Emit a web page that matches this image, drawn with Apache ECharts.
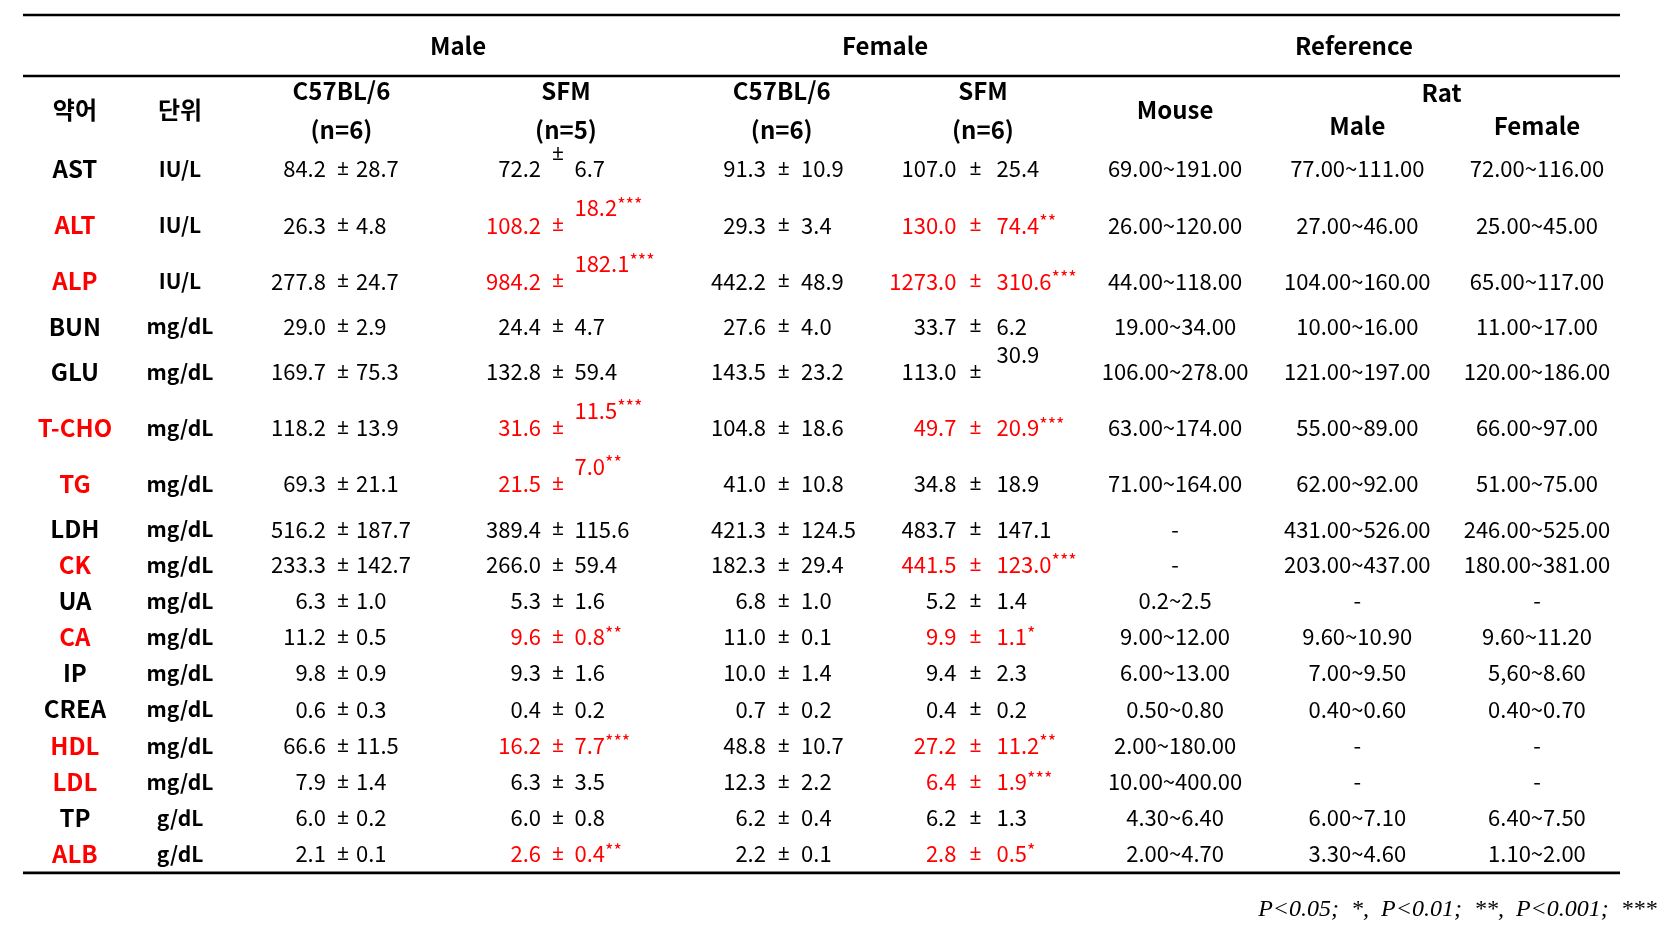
<!DOCTYPE html>
<html><head><meta charset="utf-8">
<script src="https://cdn.jsdelivr.net/npm/echarts@6/dist/echarts.min.js"></script>
<style>html,body{margin:0;padding:0;background:#fff}#c{width:1677px;height:940px}</style>
</head><body><div id="c"></div>
<script>
// ---------------- DATA ----------------
const groupHeaders = ['Male', 'Female', 'Reference'];
const subHeaders = ['C57BL/6', 'SFM', 'C57BL/6', 'SFM'];
const subHeaderN = ['(n=6)', '(n=5)', '(n=6)', '(n=6)'];
const refHeaders = ['Mouse', 'Rat', 'Male', 'Female'];
const colHeadAbbr = '약어';
const colHeadUnit = '단위';

const analytes = ['AST','ALT','ALP','BUN','GLU','T-CHO','TG','LDH','CK','UA','CA','IP','CREA','HDL','LDL','TP','ALB'];
const units = ['IU/L','IU/L','IU/L','mg/dL','mg/dL','mg/dL','mg/dL','mg/dL','mg/dL','mg/dL','mg/dL','mg/dL','mg/dL','mg/dL','mg/dL','g/dL','g/dL'];

const maleC57Mean = [84.2,26.3,277.8,29.0,169.7,118.2,69.3,516.2,233.3,6.3,11.2,9.8,0.6,66.6,7.9,6.0,2.1];
const maleC57Sd   = [28.7,4.8,24.7,2.9,75.3,13.9,21.1,187.7,142.7,1.0,0.5,0.9,0.3,11.5,1.4,0.2,0.1];
const maleSfmMean = [72.2,108.2,984.2,24.4,132.8,31.6,21.5,389.4,266.0,5.3,9.6,9.3,0.4,16.2,6.3,6.0,2.6];
const maleSfmSd   = [6.7,18.2,182.1,4.7,59.4,11.5,7.0,115.6,59.4,1.6,0.8,1.6,0.2,7.7,3.5,0.8,0.4];
const maleSfmSig  = ['','***','***','','','***','**','','','','**','','','***','','','**'];

const femaleC57Mean = [91.3,29.3,442.2,27.6,143.5,104.8,41.0,421.3,182.3,6.8,11.0,10.0,0.7,48.8,12.3,6.2,2.2];
const femaleC57Sd   = [10.9,3.4,48.9,4.0,23.2,18.6,10.8,124.5,29.4,1.0,0.1,1.4,0.2,10.7,2.2,0.4,0.1];
const femaleSfmMean = [107.0,130.0,1273.0,33.7,113.0,49.7,34.8,483.7,441.5,5.2,9.9,9.4,0.4,27.2,6.4,6.2,2.8];
const femaleSfmSd   = [25.4,74.4,310.6,6.2,30.9,20.9,18.9,147.1,123.0,1.4,1.1,2.3,0.2,11.2,1.9,1.3,0.5];
const femaleSfmSig  = ['','**','***','','','***','','','***','','*','','','**','***','','*'];

const refMouse = ['69.00~191.00','26.00~120.00','44.00~118.00','19.00~34.00','106.00~278.00','63.00~174.00','71.00~164.00','-','-','0.2~2.5','9.00~12.00','6.00~13.00','0.50~0.80','2.00~180.00','10.00~400.00','4.30~6.40','2.00~4.70'];
const refRatMale = ['77.00~111.00','27.00~46.00','104.00~160.00','10.00~16.00','121.00~197.00','55.00~89.00','62.00~92.00','431.00~526.00','203.00~437.00','-','9.60~10.90','7.00~9.50','0.40~0.60','-','-','6.00~7.10','3.30~4.60'];
const refRatFemale = ['72.00~116.00','25.00~45.00','65.00~117.00','11.00~17.00','120.00~186.00','66.00~97.00','51.00~75.00','246.00~525.00','180.00~381.00','-','9.60~11.20','5,60~8.60','0.40~0.70','-','-','6.40~7.50','1.10~2.00'];

const footnote = 'P<0.05;  *,  P<0.01;  **,  P<0.001;  ***';

// --------------- LAYOUT (units: x = % of table width, y = row units) ---------------
const rowSpan = [1.55,1.55,1.55,0.95,1.55,1.55,1.55,0.95,1,1,1,1,1,1,1,1,1];
const headerDepth = 3.5;
const raisedSd = { maleSfm: ['ALT','ALP','T-CHO','TG'], femaleSfm: ['GLU'] };
const raisedPm = { maleSfm: ['AST'] };
const sdRaise = 0.48, pmRaise = 0.42;

const X = {
  abbr: 3.25, unit: 9.83,
  groups: [27.24, 53.98, 83.34],
  sub: [19.94, 34.0, 47.51, 60.11],
  mean: [18.97, 32.44, 46.52, 58.45],
  pm: [20.04, 33.5, 47.63, 59.65],
  sd: [20.85, 34.53, 48.72, 60.96],
  mouse: 72.14, ratHead: 88.83, ratM: 83.55, ratF: 94.8,
  footRight: 102.3
};
const Y = { group: 0.84, rule2: 1.685, sub1: 2.09, sub2: 3.17, mid: 2.63, rat: 2.15, ratSub: 3.06, foot: 24.72 };

const FONT = '"Noto Sans CJK KR", "Noto Sans", sans-serif';
const PM_FONT = '"Noto Sans", "DejaVu Sans", sans-serif';
const RED = '#ff0000', BLACK = '#000000';

// --------------- build cells ---------------
const rowCenter = [];
let acc = headerDepth;
rowSpan.forEach(s => { rowCenter.push(acc + s / 2); acc += s; });
const tableBottom = acc;

const cells = [];
function add(x, y, text, opt) { cells.push(Object.assign({ x, y, text }, opt || {})); }
const bold = { weight: 'bold', size: 24 };

groupHeaders.forEach((t, i) => add(X.groups[i], Y.group, t, bold));
subHeaders.forEach((t, i) => add(X.sub[i], Y.sub1, t, bold));
subHeaderN.forEach((t, i) => add(X.sub[i], Y.sub2, t, bold));
add(X.abbr, Y.mid, colHeadAbbr, bold);
add(X.unit, Y.mid, colHeadUnit, bold);
add(X.mouse, Y.mid, refHeaders[0], bold);
add(X.ratHead, Y.rat, refHeaders[1], bold);
add(X.ratM, Y.ratSub, refHeaders[2], bold);
add(X.ratF, Y.ratSub, refHeaders[3], bold);

const groupsData = [
  { key: 'maleC57', mean: maleC57Mean, sd: maleC57Sd, sig: null },
  { key: 'maleSfm', mean: maleSfmMean, sd: maleSfmSd, sig: maleSfmSig },
  { key: 'femaleC57', mean: femaleC57Mean, sd: femaleC57Sd, sig: null },
  { key: 'femaleSfm', mean: femaleSfmMean, sd: femaleSfmSd, sig: femaleSfmSig }
];

analytes.forEach((a, r) => {
  const y = rowCenter[r] - 0.02;
  const flagged = (maleSfmSig[r] || femaleSfmSig[r]) ? true : false;
  add(X.abbr, y, a, { weight: 'bold', size: 24, color: flagged ? RED : BLACK });
  add(X.unit, y, units[r], { weight: 'bold', size: 21 });
  groupsData.forEach((g, gi) => {
    const sig = g.sig ? g.sig[r] : '';
    const color = sig ? RED : BLACK;
    add(X.mean[gi], y, g.mean[r].toFixed(1), { align: 'right', color });
    const pmUp = (raisedPm[g.key] || []).indexOf(a) >= 0 ? pmRaise : 0;
    add(X.pm[gi], y - pmUp, '±', { color, size: 21, family: PM_FONT });
    const sdUp = (raisedSd[g.key] || []).indexOf(a) >= 0 ? sdRaise : 0;
    add(X.sd[gi], y - sdUp, g.sd[r].toFixed(1), { align: 'left', color, stars: sig });
  });
  add(X.mouse, y, refMouse[r]);
  add(X.ratM, y, refRatMale[r]);
  add(X.ratF, y, refRatFemale[r]);
});

const rules = [
  [0, 0, 100],
  [0, Y.rule2, 100],
  [0, tableBottom, 100]
];

// --------------- chart ---------------
const chart = echarts.init(document.getElementById('c'), null, { renderer: 'canvas' });
chart.setOption({
  animation: false,
  backgroundColor: '#ffffff',
  grid: { left: 23, right: 57, top: 15, bottom: 940 - 15 - tableBottom * 36.2 },
  xAxis: { type: 'value', min: 0, max: 100, show: false },
  yAxis: { type: 'value', min: 0, max: tableBottom, inverse: true, show: false },
  series: [
    {
      type: 'custom', coordinateSystem: 'cartesian2d', silent: true, clip: false,
      data: rules,
      renderItem: (params, api) => {
        const p1 = api.coord([api.value(0), api.value(1)]);
        const p2 = api.coord([api.value(2), api.value(1)]);
        return { type: 'line', shape: { x1: p1[0], y1: p1[1], x2: p2[0], y2: p2[1] },
                 style: { stroke: '#000', lineWidth: 2.7 } };
      }
    },
    {
      type: 'custom', coordinateSystem: 'cartesian2d', silent: true, clip: false,
      data: cells.map((c, i) => [c.x, c.y, i]),
      renderItem: (params, api) => {
        const c = cells[api.value(2)];
        const p = api.coord([api.value(0), api.value(1)]);
        const color = c.color || BLACK;
        const style = {
          x: 0, y: 0,
          fill: color,
          fontFamily: c.family || FONT,
          fontSize: c.size || 22,
          fontWeight: c.weight || 'normal',
          align: c.align || 'center',
          verticalAlign: 'middle'
        };
        if (c.stars) {
          style.text = '{v|' + c.text + '}{s|' + c.stars + '}';
          style.rich = {
            v: { fontSize: 22, fill: color, fontFamily: FONT, lineHeight: 26 },
            s: { fontSize: 18, fill: color, fontFamily: FONT, verticalAlign: 'top', lineHeight: 18 }
          };
        } else {
          style.text = c.text;
        }
        return { type: 'text', x: p[0], y: p[1], style };
      }
    },
    {
      type: 'custom', coordinateSystem: 'cartesian2d', silent: true, clip: false,
      data: [[X.footRight, Y.foot]],
      renderItem: (params, api) => {
        const p = api.coord([api.value(0), api.value(1)]);
        return { type: 'text', x: p[0], y: p[1], style: {
          text: footnote, fill: '#000', fontFamily: '"Liberation Serif", "DejaVu Serif", serif',
          fontStyle: 'italic', fontSize: 24, align: 'right', verticalAlign: 'middle' } };
      }
    }
  ]
});
</script></body></html>
